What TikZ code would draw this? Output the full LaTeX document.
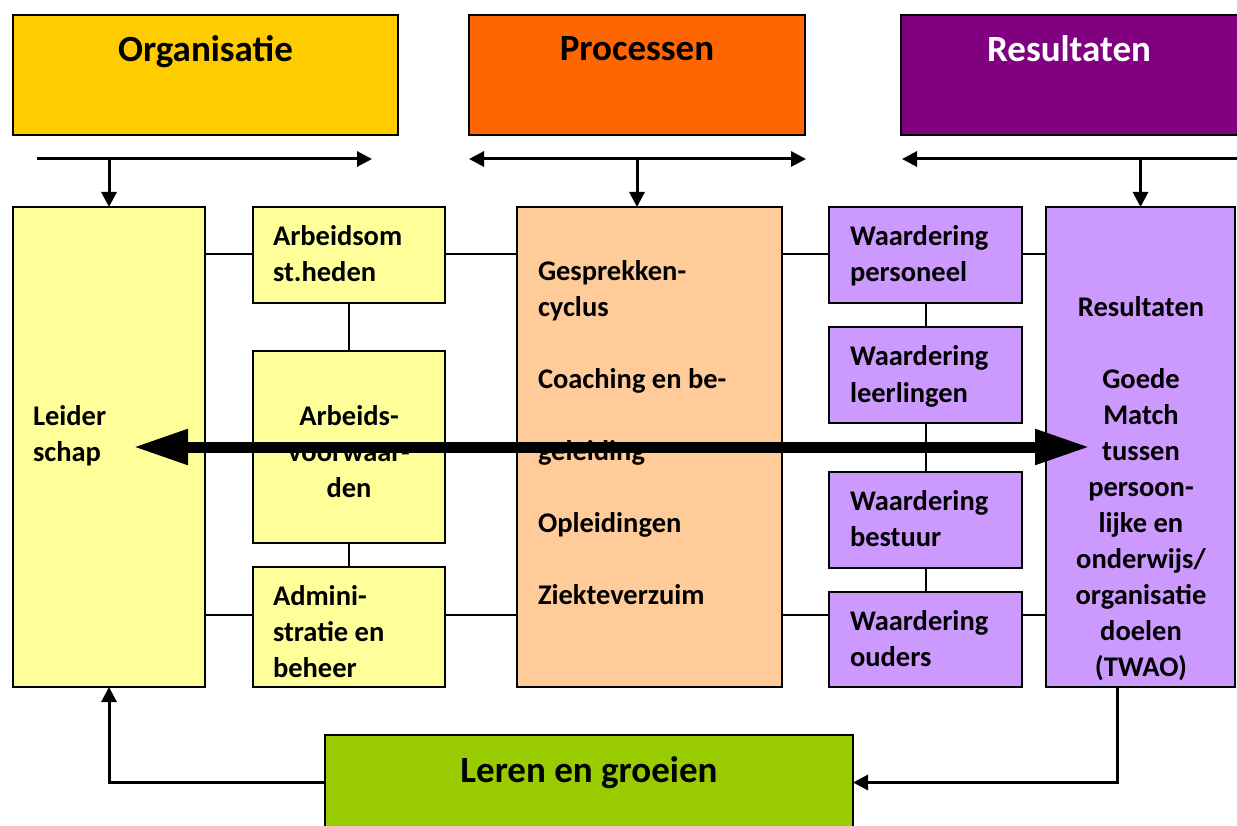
\documentclass[tikz,border=0pt]{standalone}
\usepackage{fontspec}
\setmainfont{Carlito}
\usetikzlibrary{arrows.meta,calc}
\definecolor{orgc}{HTML}{FFCC00}
\definecolor{procc}{HTML}{FF6600}
\definecolor{resc}{HTML}{800080}
\definecolor{lighty}{HTML}{FFFF99}
\definecolor{peach}{HTML}{FFCC99}
\definecolor{lilac}{HTML}{CC99FF}
\definecolor{greenc}{HTML}{99CC00}
\begin{document}
\begin{tikzpicture}[x=1pt,y=-1pt,
  box/.style={draw, line width=2pt, inner sep=0pt, outer sep=0pt, anchor=north west},
  lbl/.style={font=\bfseries\fontsize{28.5}{36}\selectfont, inner sep=0pt, outer sep=0pt, align=left, anchor=base west},
  clbl/.style={font=\bfseries\fontsize{28.5}{36}\selectfont, inner sep=0pt, outer sep=0pt, align=center, anchor=base},
  ttl/.style={font=\bfseries\fontsize{37}{44}\selectfont, inner sep=0pt, outer sep=0pt, anchor=base},
  conn/.style={line width=2pt},
  arr/.style={line width=3pt, -{Triangle[length=15pt,width=15pt]}},
  darr/.style={line width=3pt, {Triangle[length=15pt,width=15pt]}-{Triangle[length=15pt,width=15pt]}},
  bigarr/.style={line width=11pt, {Triangle[length=55pt,width=33pt]}-{Triangle[length=55pt,width=33pt]}}]
\useasboundingbox (0,0) rectangle (1237,826);

% title boxes
\node[box, fill=orgc, minimum width=385pt, minimum height=120pt] (torg) at (13,15) {};
\node[box, fill=procc, minimum width=336pt, minimum height=120pt] (tproc) at (469,15) {};
\node[box, fill=resc, minimum width=337pt, minimum height=120pt] (tres) at (901,15) {};

% main boxes
\node[box, fill=lighty, minimum width=192pt, minimum height=480pt] (lead) at (13,207) {};
\node[box, fill=lighty, minimum width=192pt, minimum height=96pt] (arb) at (253,207) {};
\node[box, fill=lighty, minimum width=192pt, minimum height=192pt] (voor) at (253,351) {};
\node[box, fill=lighty, minimum width=192pt, minimum height=120pt] (adm) at (253,567) {};
\node[box, fill=peach, minimum width=265pt, minimum height=480pt] (proc) at (517,207) {};
\node[box, fill=lilac, minimum width=193pt, minimum height=96pt] (wp) at (829,207) {};
\node[box, fill=lilac, minimum width=193pt, minimum height=96pt] (wl) at (829,327) {};
\node[box, fill=lilac, minimum width=193pt, minimum height=96pt] (wb) at (829,472) {};
\node[box, fill=lilac, minimum width=193pt, minimum height=95pt] (wo) at (829,592) {};
\node[box, fill=lilac, minimum width=189pt, minimum height=480pt] (res) at (1046,207) {};
\node[box, fill=greenc, minimum width=528pt, minimum height=95pt] (leren) at (325,735) {};

% connector levels
\coordinate (ya) at (0,254);
\coordinate (yb) at (0,615);
\draw[conn] (lead.east |- ya) -- (arb.west |- ya);
\draw[conn] (arb.east |- ya) -- (proc.west |- ya);
\draw[conn] (proc.east |- ya) -- (wp.west |- ya);
\draw[conn] (wp.east |- ya) -- (res.west |- ya);
\draw[conn] (lead.east |- yb) -- (adm.west |- yb);
\draw[conn] (adm.east |- yb) -- (proc.west |- yb);
\draw[conn] (proc.east |- yb) -- (wo.west |- yb);
\draw[conn] (wo.east |- yb) -- (res.west |- yb);
\draw[conn] (arb.south) -- (voor.north);
\draw[conn] (voor.south) -- (adm.north);
\draw[conn] (wp.south) -- (wl.north);
\draw[conn] (wl.south) -- (wb.north);
\draw[conn] (wb.south) -- (wo.north);

% top arrows
\coordinate (l1) at (37,159);
\coordinate (l2) at (372,159);
\coordinate (m1) at (469,159);
\coordinate (m2) at (806,159);
\coordinate (r1) at (1240,159);
\coordinate (r2) at (902,159);
\draw[arr] (l1) -- (l2);
\draw[arr] (lead.north |- l1) -- (lead.north);
\draw[darr] (m1) -- (m2);
\draw[arr] (tproc.south |- m1) -- (tproc.south |- proc.north);
\draw[arr] (r1) -- (r2);
\draw[arr] (res.north |- r1) -- (res.north);

% bottom arrows
\draw[arr] (leren.west) -| (lead.south);
\draw[arr] ([xshift=-23.5pt]res.south) |- (leren.east);

% texts (anchors at the baseline of the last line)
\node[ttl] (torgt) at (205.5,62) {Organisatie};
\node[ttl] (tproct) at (637,61) {Processen};
\node[ttl, text=white] (trest) at (1069,62) {Resultaten};
\node[ttl] (lerent) at (589,782) {Leren en groeien};

\node[lbl] (leadt) at (33,461) {Leider\\schap};
\node[lbl] (arbt) at (273,282) {Arbeidsom\\st.heden};
\node[clbl] (voort) at (349,497) {Arbeids-\\voorwaar-\\den};
\node[lbl] (admt) at (273,677) {Admini-\\stratie en\\beheer};
\node[lbl] (proct) at (538,604) {Gesprekken-\\cyclus\\[36pt]Coaching en be-\\[36pt]geleiding\\[36pt]Opleidingen\\[36pt]Ziekteverzuim};
\node[lbl] (wpt) at (850,282) {Waardering\\personeel};
\node[lbl] (wlt) at (850,402) {Waardering\\leerlingen};
\node[lbl] (wbt) at (850,546) {Waardering\\bestuur};
\node[lbl] (wot) at (850,666) {Waardering\\ouders};
\node[clbl] (rest) at (1141,676) {Resultaten\\[36pt]Goede\\Match\\tussen\\persoon-\\lijke en\\onderwijs/\\organisatie\\doelen\\(TWAO)};

% big double arrow
\draw[bigarr] ([xshift=24pt]lead.center) -- ([xshift=-50.5pt]res.center);
\end{tikzpicture}
\end{document}
